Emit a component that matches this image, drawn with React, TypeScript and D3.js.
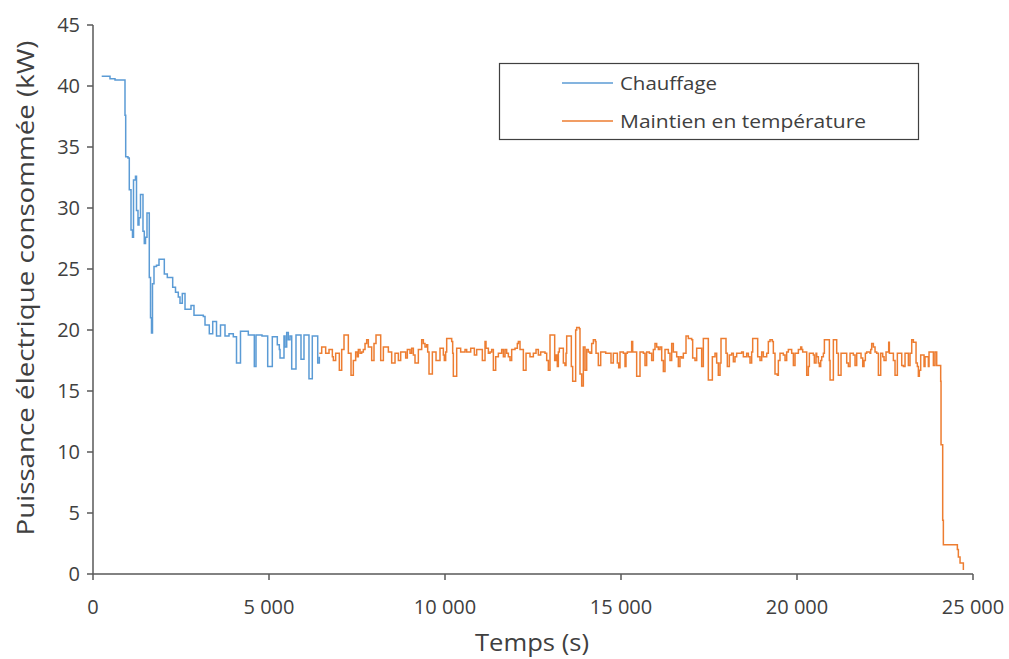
import React from "react";
import * as d3 from "d3";

// Chauffage (heating) series: time (s) and power (kW)
const heatTime = [247, 483, 625, 909, 929, 994, 1031, 1080, 1122, 1151, 1207, 1236, 1278, 1307, 1349, 1420, 1457, 1492, 1534, 1599, 1634, 1662, 1690, 1733, 1804, 1875, 2026, 2111, 2264, 2344, 2423, 2472, 2537, 2614, 2784, 2869, 3134, 3182, 3304, 3401, 3509, 3622, 3750, 3864, 3986, 4077, 4190, 4412, 4583, 4631, 4801, 4963, 5094, 5236, 5293, 5313, 5426, 5455, 5503, 5549, 5597, 5645, 5767, 5909, 5994, 6136, 6230, 6384, 6430];
const heatPower = [40.8, 40.6, 40.5, 37.6, 34.2, 34.1, 31.5, 28.2, 27.6, 32.3, 32.6, 29.8, 28.6, 29.2, 31.1, 28.1, 27.1, 27.6, 29.6, 24.3, 21.0, 19.75, 23.8, 25.2, 25.3, 25.8, 24.6, 24.3, 23.5, 23.1, 22.7, 22.2, 23.0, 21.7, 22.0, 21.2, 21.1, 20.4, 19.7, 20.7, 19.5, 20.4, 19.5, 19.7, 19.45, 17.3, 19.9, 19.6, 17.0, 19.6, 19.5, 17.0, 19.45, 18.8, 18.4, 17.7, 19.5, 18.6, 19.8, 19.2, 19.5, 16.8, 19.6, 17.6, 19.6, 16.0, 19.5, 17.3, 17.8];

// Maintien en température (holding) series
const holdTime = [6430, 6497, 6610, 6705, 6800, 6828, 6894, 6998, 7065, 7131, 7254, 7330, 7396, 7462, 7510, 7538, 7586, 7633, 7680, 7728, 7775, 7822, 7917, 7983, 8040, 8173, 8249, 8391, 8485, 8580, 8675, 8741, 8883, 8930, 9006, 9053, 9101, 9148, 9243, 9338, 9385, 9432, 9480, 9508, 9546, 9641, 9745, 9858, 9953, 9981, 10019, 10048, 10190, 10218, 10237, 10332, 10445, 10569, 10616, 10730, 10834, 10900, 11061, 11137, 11165, 11232, 11279, 11326, 11374, 11440, 11516, 11610, 11658, 11705, 11752, 11800, 11847, 11894, 11989, 12055, 12084, 12131, 12226, 12302, 12415, 12510, 12586, 12652, 12718, 12841, 12889, 12936,
  12983, 13116, 13154, 13191, 13220, 13248, 13362, 13409, 13438, 13457, 13589, 13627, 13712, 13741, 13816, 13835, 13883, 13930, 13977, 14025, 14072, 14120, 14167, 14214, 14271, 14290, 14356, 14423, 14565, 14716, 14782, 14896, 14934, 14972, 15067, 15114, 15142, 15180, 15303, 15332, 15445, 15540, 15635, 15682, 15729, 15805, 15871, 15919, 15966, 16014, 16061, 16108, 16156, 16203, 16250, 16345, 16392, 16440, 16487, 16582, 16629, 16676, 16724, 16771, 16847, 16913, 17008, 17036, 17102, 17150, 17292, 17339, 17481, 17595, 17671, 17718, 17765, 17813, 17841, 17983, 18021, 18078, 18144, 18192, 18239, 18286, 18428, 18476, 18570, 18618, 18665, 18712, 18741, 18883, 18949, 18997, 19044, 19139, 19186, 19233, 19299, 19328, 19375, 19442, 19470, 19517, 19612, 19660, 19707, 19754,
  19849, 19897, 19944, 20039, 20105, 20134, 20162, 20276, 20323, 20351, 20465, 20493, 20541, 20560, 20607, 20635, 20673, 20702, 20749, 20778, 20920, 20939, 21033, 21128, 21175, 21251, 21412, 21459, 21507, 21601, 21649, 21696, 21819, 21867, 21904, 21942, 21980, 22075, 22094, 22122, 22170, 22217, 22264, 22312, 22378, 22435, 22473, 22529, 22605, 22624, 22738, 22785, 22851, 22975, 23022, 23069, 23164, 23211, 23259,
  23306, 23382, 23419, 23448, 23476, 23514, 23609, 23637, 23732, 23751, 23874, 23921, 23969, 24082, 24092, 24139, 24158, 24556, 24584, 24632, 24726];
const holdPower = [18.1, 18.6, 18.1, 18.4, 17.8, 17.5, 18.1, 16.7, 18.4, 19.6, 18.1, 16.3, 17.5, 18.2, 17.8, 18.4, 18.1, 18.2, 18.4, 18.9, 19.2, 18.6, 17.5, 18.9, 19.6, 17.5, 18.6, 18.2, 17.3, 18.1, 17.5, 18.2, 17.7, 18.4, 18.1, 18.5, 17.95, 17.3, 18.4, 19.2, 18.9, 18.6, 18.8, 18.2, 16.4, 18.2, 17.5, 18.5, 17.95, 17.5, 18.2, 19.3, 19.05, 18.1, 16.2, 18.5, 18.2, 18.4, 18.2, 18.5, 17.95, 18.4, 17.5, 19.05, 18.5, 18.1, 18.2, 18.4, 16.7, 17.8, 18.1, 18.4, 17.8, 18.4, 18.1, 17.8, 17.5, 18.4, 18.5, 18.9, 19.05, 18.4, 16.7, 18.1, 17.8, 18.1, 18.4, 17.95, 18.2, 18.1, 17.5, 16.7,
  19.6, 17.5, 17.95, 17.0, 18.2, 18.5, 17.3, 17.1, 18.1, 19.5, 17.0, 15.8, 20.0, 20.2, 20.1, 16.4, 15.4, 18.6, 16.7, 18.4, 18.2, 18.1, 18.9, 19.2, 19.05, 18.1, 17.1, 18.2, 18.1, 17.3, 18.1, 17.3, 16.9, 18.2, 18.1, 17.0, 18.1, 18.2, 19.05, 18.2, 16.2, 18.2, 18.1, 17.1, 18.2, 18.1, 17.5, 18.4, 18.9, 18.6, 18.4, 18.6, 17.5, 16.6, 18.4, 18.1, 17.5, 18.9, 18.2, 17.8, 17.0, 17.8, 17.7, 18.1, 19.5, 19.3, 19.2, 17.7, 17.5, 18.5, 17.0, 19.3, 15.9, 17.8, 18.1, 17.3, 16.3, 17.3, 19.3, 18.1, 17.0, 17.95, 18.1, 17.4, 17.8, 18.1, 18.2, 17.8, 18.1, 17.8, 17.3, 18.2, 19.3, 17.8, 17.5, 18.2, 17.8, 18.1, 19.05, 19.2, 19.05, 18.1, 16.4, 16.3, 17.5, 18.1, 17.95, 17.5, 18.2, 18.4,
  18.1, 17.1, 18.1, 18.4, 18.6, 18.4, 18.2, 16.3, 17.0, 18.1, 17.95, 17.3, 18.1, 17.8, 17.3, 17.0, 17.5, 17.8, 18.1, 19.2, 17.5, 15.9, 19.2, 18.1, 16.3, 18.1, 17.3, 17.0, 18.1, 17.95, 17.1, 18.1, 17.7, 17.0, 17.5, 18.1, 18.2, 18.1, 18.4, 18.9, 18.6, 18.2, 18.1, 16.3, 18.1, 17.8, 17.5, 18.2, 19.0, 18.1, 17.5, 16.3, 18.1, 17.1, 17.0, 18.1, 17.1, 18.1, 19.2,
  19.0, 17.3, 17.0, 16.2, 16.7, 17.95, 17.0, 17.8, 17.0, 18.2, 17.1, 18.2, 17.1, 15.8, 10.6, 4.4, 2.4, 2.0, 1.4, 0.9, 0.33];

const xTickValues = [0, 5000, 10000, 15000, 20000, 25000];
const xTickLabels = ["0", "5 000", "10 000", "15 000", "20 000", "25 000"];
const yTickValues = [0, 5, 10, 15, 20, 25, 30, 35, 40, 45];
const seriesNames = ["Chauffage", "Maintien en température"];
const seriesColors = ["#5B9BD5", "#ED7D31"];

export default function App() {
  const W = 1009;
  const H = 659;
  const x = d3.scaleLinear().domain([0, 25000]).range([93, 973]);
  const y = d3.scaleLinear().domain([0, 45]).range([574, 25]);
  const line = d3
    .line<[number, number]>()
    .x((d) => x(d[0]))
    .y((d) => y(d[1]))
    .curve(d3.curveStepAfter);
  const heat: [number, number][] = heatTime.map((t, i) => [t, heatPower[i]]);
  const hold: [number, number][] = holdTime.map((t, i) => [t, holdPower[i]]);
  const axisColor = "#595959";
  const textColor = "#404040";
  const font = "'Open Sans', 'Noto Sans', sans-serif";

  return (
    <div style={{ position: "absolute", left: 0, top: 0 }}>
      <svg width={W} height={H} style={{ display: "block", background: "#fff" }} fontFamily={font}>
        <rect x={0} y={0} width={W} height={H} fill="#fff" />
        {/* series */}
        <path d={line(hold) || ""} fill="none" stroke={seriesColors[1]} strokeWidth={1.5} />
        <path d={line(heat) || ""} fill="none" stroke={seriesColors[0]} strokeWidth={1.5} />
        {/* y axis */}
        <line x1={x(0)} x2={x(0)} y1={y(45)} y2={y(0)} stroke={axisColor} strokeWidth={1.5} />
        {yTickValues.map((v) => (
          <g key={"y" + v}>
            <line x1={x(0) - 6} x2={x(0)} y1={y(v)} y2={y(v)} stroke={axisColor} strokeWidth={1.5} />
            <text x={80} y={y(v)} dy="0.36em" textAnchor="end" fontSize={20} fill={textColor}>
              {v}
            </text>
          </g>
        ))}
        {/* x axis */}
        <line x1={x(0)} x2={x(25000)} y1={y(0)} y2={y(0)} stroke={axisColor} strokeWidth={1.5} />
        {xTickValues.map((t, i) => (
          <g key={"x" + t}>
            <line x1={x(t)} x2={x(t)} y1={y(0)} y2={y(0) + 6} stroke={axisColor} strokeWidth={1.5} />
            <text x={x(t)} y={614} textAnchor="middle" fontSize={20} fill={textColor}>
              {xTickLabels[i]}
            </text>
          </g>
        ))}
        {/* axis titles */}
        <text x={532} y={651} textAnchor="middle" fontSize={24} fill={textColor} textLength={114} lengthAdjust="spacingAndGlyphs">
          Temps (s)
        </text>
        <text
          transform={`translate(34,288) rotate(-90)`}
          textAnchor="middle"
          fontSize={24}
          fill={textColor}
          textLength={495}
          lengthAdjust="spacingAndGlyphs"
        >
          Puissance électrique consommée (kW)
        </text>
        {/* legend */}
        <rect x={499.5} y={63.5} width={419} height={76} fill="#fff" stroke="#404040" strokeWidth={1.2} />
        {seriesNames.map((name, i) => (
          <g key={name}>
            <line x1={562} x2={613} y1={83 + i * 38} y2={83 + i * 38} stroke={seriesColors[i]} strokeWidth={1.4} />
            <text x={620} y={83 + i * 38} dy="0.35em" fontSize={19} fill={textColor}
              textLength={i === 0 ? 97 : 246} lengthAdjust="spacingAndGlyphs">
              {name}
            </text>
          </g>
        ))}
      </svg>
    </div>
  );
}
